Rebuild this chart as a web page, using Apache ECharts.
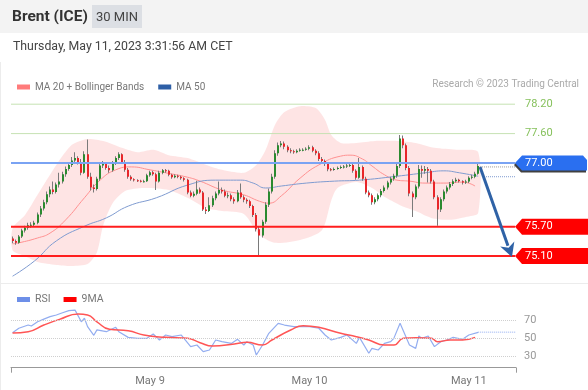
<!DOCTYPE html>
<html><head><meta charset="utf-8">
<script src="https://cdn.jsdelivr.net/npm/echarts@6/dist/echarts.min.js"></script>
<style>
html,body{margin:0;padding:0;background:#fff;width:588px;height:390px;overflow:hidden;font-family:Roboto,Arial,sans-serif;}
#chart{position:absolute;left:0;top:0;width:588px;height:390px;}
#hdr{position:absolute;left:0;top:0;width:588px;height:33px;background:#f3f3f3;}
#title{position:absolute;left:12px;top:7px;font-weight:bold;font-size:15.5px;color:#333;}
#badge{position:absolute;left:92px;top:5px;width:50px;height:23px;background:#dcdfe4;color:#444;font-size:13px;line-height:23px;text-align:center;}
#date{position:absolute;left:13px;top:38.5px;font-size:12.3px;color:#444;}
#sep{position:absolute;left:0;top:283px;width:588px;height:1px;background:#ececec;}
#lb{position:absolute;left:0;top:62px;width:1px;height:328px;background:#ececec;}
</style></head><body>
<div id="chart"></div>
<div id="hdr"><div id="title">Brent (ICE)</div><div id="badge">30 MIN</div></div>
<div id="date">Thursday, May 11, 2023 3:31:56 AM CET</div>
<div id="sep"></div><div id="lb"></div>
<script>
// ---- data (30-minute candles, index 0..149) ----
const opens = [
75.46,75.41,75.37,75.50,75.62,75.68,75.73,75.74,75.78,75.95,
76.07,76.20,76.36,76.46,76.41,76.56,76.62,76.77,76.88,76.96,
77.05,77.10,77.02,76.80,77.18,76.72,76.50,76.47,76.68,76.95,
76.98,76.90,76.85,77.00,77.10,77.18,77.02,76.86,76.72,76.67,
76.65,76.64,76.62,76.63,76.75,76.81,76.77,76.62,76.80,76.85,
76.84,76.76,76.71,76.74,76.72,76.69,76.66,76.40,76.33,76.37,
76.46,76.40,76.05,76.02,76.14,76.28,76.38,76.45,76.42,76.33,
76.34,76.26,76.22,76.40,76.30,76.25,76.22,76.12,75.94,75.65,
75.52,75.80,76.15,76.42,76.72,77.20,77.36,77.40,77.33,77.26,
77.24,77.22,77.25,77.27,77.27,77.29,77.32,77.25,77.20,77.08,
77.04,76.98,76.87,76.86,76.88,76.90,76.92,76.93,76.95,76.96,
76.84,76.70,76.92,76.68,76.40,76.34,76.20,76.26,76.34,76.43,
76.50,76.60,76.68,76.74,76.94,77.50,77.36,76.90,76.38,76.30,
76.52,76.88,76.84,76.88,76.84,76.62,76.30,76.05,76.26,76.42,
76.50,76.57,76.63,76.66,76.63,76.60,76.62,76.70,76.72,76.78];
const closes = [
75.41,75.37,75.50,75.62,75.68,75.73,75.74,75.78,75.95,76.07,
76.20,76.36,76.46,76.41,76.56,76.62,76.77,76.88,76.96,77.05,
77.10,77.02,76.80,77.18,76.72,76.50,76.47,76.68,76.95,76.98,
76.90,76.85,77.00,77.10,77.18,77.02,76.86,76.72,76.67,76.65,
76.64,76.62,76.63,76.75,76.81,76.77,76.62,76.80,76.85,76.84,
76.76,76.71,76.74,76.72,76.69,76.66,76.40,76.33,76.37,76.46,
76.40,76.05,76.02,76.14,76.28,76.38,76.45,76.42,76.33,76.34,
76.26,76.22,76.40,76.30,76.25,76.22,76.12,75.94,75.65,75.52,
75.80,76.15,76.42,76.72,77.20,77.36,77.40,77.33,77.26,77.24,
77.22,77.25,77.27,77.27,77.29,77.32,77.25,77.20,77.08,77.04,
76.98,76.87,76.86,76.88,76.90,76.92,76.93,76.95,76.96,76.84,
76.70,76.92,76.68,76.40,76.34,76.20,76.26,76.34,76.43,76.50,
76.60,76.68,76.74,76.94,77.50,77.36,76.90,76.38,76.30,76.52,
76.88,76.84,76.88,76.84,76.62,76.30,76.05,76.26,76.42,76.50,
76.57,76.63,76.66,76.63,76.60,76.62,76.70,76.72,76.78,76.94];
const lows = [
75.36,75.33,75.35,75.47,75.58,75.64,75.68,75.70,75.75,75.90,
76.03,76.16,76.30,76.36,76.38,76.50,76.58,76.72,76.84,76.92,
77.00,76.97,76.75,76.78,76.68,76.44,76.40,76.44,76.64,76.90,
76.86,76.80,76.82,76.96,77.06,76.98,76.82,76.68,76.64,76.62,
76.61,76.60,76.60,76.61,76.72,76.74,76.45,76.60,76.77,76.80,
76.73,76.68,76.69,76.69,76.66,76.62,76.36,76.30,76.30,76.34,
76.37,76.02,75.96,76.00,76.10,76.24,76.34,76.38,76.30,76.28,
76.22,76.17,76.20,76.27,76.20,76.17,76.08,75.90,75.60,75.10,
75.48,75.76,76.10,76.38,76.68,77.15,77.32,77.28,77.22,77.20,
77.19,77.20,77.23,77.24,77.25,77.26,77.22,77.16,77.04,77.00,
76.94,76.83,76.83,76.84,76.86,76.88,76.89,76.90,76.92,76.80,
76.66,76.68,76.64,76.36,76.30,76.15,76.16,76.22,76.30,76.40,
76.46,76.56,76.64,76.70,76.90,77.30,76.85,76.32,75.90,76.26,
76.48,76.70,76.78,76.60,76.58,76.26,75.72,76.00,76.22,76.38,
76.46,76.53,76.60,76.60,76.56,76.57,76.59,76.67,76.69,76.76];
const highs = [
75.50,75.44,75.53,75.66,75.72,75.78,75.79,75.82,75.99,76.12,
76.25,76.42,76.52,76.62,76.60,76.80,76.82,76.93,77.02,77.12,
77.22,77.14,77.08,77.24,77.48,76.80,76.56,76.72,77.00,77.04,
77.02,76.95,77.04,77.14,77.22,77.20,77.06,76.90,76.75,76.69,
76.67,76.66,76.66,76.78,76.84,76.84,76.80,76.84,76.88,76.88,
76.86,76.78,76.77,76.76,76.74,76.71,76.68,76.44,76.42,76.64,
76.50,76.43,76.10,76.30,76.33,76.42,76.62,76.50,76.46,76.40,
76.38,76.30,76.45,76.58,76.34,76.28,76.25,76.15,75.98,75.70,
75.84,76.20,76.48,76.78,77.26,77.42,77.45,77.44,77.36,77.30,
77.27,77.28,77.30,77.30,77.32,77.36,77.35,77.28,77.24,77.12,
77.07,77.00,76.90,76.91,76.93,76.95,76.96,76.98,77.00,76.99,
76.87,77.10,76.95,76.72,76.44,76.38,76.30,76.38,76.47,76.54,
76.64,76.72,76.78,76.98,77.57,77.56,77.40,76.94,76.42,76.56,
76.96,76.95,76.94,76.92,76.88,76.66,76.34,76.30,76.46,76.54,
76.61,76.67,76.70,76.68,76.65,76.66,76.73,76.76,76.82,76.98];

// indicator readings [candle index, value]
const ma20 = [[0,75.35],[2,75.37],[8,75.47],[12,75.57],[17,75.84],[23,76.29],[28,76.65],[33,76.86],[38,76.92],[44,76.86],[49,76.80],[56,76.71],[60,76.63],[67,76.45],[74,76.35],[79,76.22],[82,76.18],[86,76.33],[92,76.69],[98,76.96],[105,77.14],[108,77.16],[112,77.08],[115,76.94],[119,76.76],[123,76.65],[127,76.63],[132,76.59],[138,76.59],[144,76.61],[148,76.53]];
const ma50 = [[0,74.69],[7,75.00],[14,75.41],[23,75.71],[30,75.88],[37,76.12],[46,76.29],[56,76.55],[65,76.65],[73,76.65],[77,76.59],[81,76.49],[86,76.53],[94,76.59],[103,76.63],[111,76.65],[123,76.73],[132,76.80],[138,76.84],[143,76.80],[149,76.73]];
const bbUpper = [[0,75.67],[4,75.94],[8,76.35],[14,76.96],[19,77.37],[24,77.49],[29,77.45],[35,77.31],[40,77.22],[45,77.27],[50,77.16],[56,77.10],[62,76.96],[67,76.86],[74,76.80],[78,76.96],[81,77.27],[84,77.78],[87,78.04],[92,78.16],[97,78.12],[100,77.88],[102,77.57],[105,77.41],[110,77.41],[116,77.45],[123,77.45],[129,77.41],[135,77.31],[142,77.27],[149,77.22]];
const bbLower = [[0,75.22],[4,75.10],[8,74.98],[14,74.92],[19,74.90],[24,74.94],[27,75.18],[29,75.73],[32,76.18],[36,76.43],[42,76.49],[50,76.45],[56,76.29],[62,76.08],[67,76.02],[74,75.96],[79,75.53],[84,75.37],[92,75.43],[99,75.63],[102,76.24],[104,76.49],[110,76.61],[115,76.49],[119,76.31],[124,76.14],[129,76.02],[134,75.88],[140,75.84],[145,75.90],[149,75.98]];
const rsi = [[0,55.9],[2,60.8],[5,64.4],[6,63.3],[8,68],[10,71],[12,73.7],[14,75.6],[16,78],[18,80.4],[20,81],[22,68],[23,72],[24,62.6],[26,53],[27,59],[30,57],[33,61.9],[34,57],[37,50.7],[40,49.6],[43,49.6],[45,54.4],[47,47.8],[49,53.3],[51,51.5],[54,53.3],[57,40.4],[59,42.2],[61,34.8],[63,36.7],[65,47.8],[67,45.9],[70,44],[72,48.5],[74,42.2],[75,45.9],[77,42.2],[78,31.1],[80,42.2],[82,55.2],[85,66.3],[87,64.4],[90,62.6],[92,62.6],[95,62.6],[98,60.8],[100,53.3],[102,47.8],[105,50.7],[107,53.3],[110,44],[111,50.7],[114,33],[115,38.5],[117,36.7],[119,44],[121,45.9],[122,49.6],[124,66.3],[127,42.2],[129,38.5],[130,52.2],[131,49.6],[133,52.2],[135,40.4],[137,45.9],[139,47.8],[141,50.7],[144,48.5],[146,53.3],[149,56.3]];
const rsiMa9 = [[0,55.6],[5,57],[10,64.4],[15,70.7],[21,76.7],[24,75.6],[27,68],[31,59.6],[37,58.1],[42,53.3],[49,50.7],[56,49.6],[60,44.8],[64,41.1],[71,43.3],[75,45.2],[80,42.2],[83,47.8],[89,58.9],[93,63.7],[98,61.9],[105,55.2],[110,51.5],[114,47.8],[119,42.2],[122,42.2],[125,49.6],[129,50.4],[134,49.6],[136,45.9],[140,47.8],[144,47.8],[148,50.7]];

const levels = [78.20, 77.60, 77.00, 75.70, 75.10];
const levelLabels = ['78.20', '77.60', '77.00', '75.70', '75.10'];
const rsiLevels = [70, 50, 30];
const dateTicks = [44, 95, 146];
const dateLabels = ['May 9', 'May 10', 'May 11'];
const lastPrice = 76.92, lastMa50 = 76.72, lastRsi = 56.5;
const arrowFrom = [149.6, 76.92], arrowTo = [159.8, 75.08];
const xMin = -0.5, xMax = 161.1;

// ---- styles ----
const GREEN = '#2b8a30', RED = '#e8262a';
const levelStyle = [
  {line:'#c6e2b3', w:1, text:'#86c15c', tag:null},
  {line:'#c6e2b3', w:1, text:'#86c15c', tag:null},
  {line:'#7aa3f3', w:2, text:'#fff', tag:'#2a6ff0', shadow:true},
  {line:'#ff1e1e', w:2, text:'#fff', tag:'#ff0000'},
  {line:'#ff1e1e', w:2, text:'#fff', tag:'#ff0000'}
];

const candleData = opens.map((o, i) => [i, o, closes[i], lows[i], highs[i]]);
const chart = echarts.init(document.getElementById('chart'), null, {renderer:'canvas'});

const option = {
  animation: false,
  textStyle: {fontFamily: 'Roboto, Arial, sans-serif'},
  title: {text: 'Research \u00a9 2023 Trading Central', right: 9, top: 79, padding: 0,
          textStyle: {fontSize: 10, color: '#aaa', fontWeight: 'normal'}},
  legend: [
    {left: 12, top: 77, icon: 'rect', itemWidth: 13, itemHeight: 5, itemGap: 14, selectedMode: false,
     textStyle: {color: '#777', fontSize: 10},
     data: [{name: 'MA 20 + Bollinger Bands', itemStyle: {color: '#ff7b7b'}},
            {name: 'MA 50', itemStyle: {color: '#2e5fa6'}}]},
    {left: 12, top: 289, icon: 'rect', itemWidth: 13, itemHeight: 5, itemGap: 13, selectedMode: false,
     textStyle: {color: '#777', fontSize: 10.5},
     data: [{name: 'RSI', itemStyle: {color: '#6d8fe8'}},
            {name: '9MA', itemStyle: {color: '#ff0000'}}]}
  ],
  grid: [
    {left: 11, width: 505, top: 89.5, height: 191.1},
    {left: 11, width: 505, top: 302, height: 65.7}
  ],
  xAxis: [
    {gridIndex: 0, type: 'value', min: xMin, max: xMax, show: false},
    {gridIndex: 1, type: 'value', min: xMin, max: xMax, splitLine: {show: false},
     axisLine: {show: true, lineStyle: {color: '#999'}},
     axisTick: {show: true, customValues: [xMin, xMax], length: 5, lineStyle: {color: '#999'}},
     axisLabel: {customValues: dateTicks, color: '#777', fontSize: 11, margin: 8,
                 formatter: v => dateLabels[dateTicks.indexOf(v)] || ''}}
  ],
  yAxis: [
    {gridIndex: 0, type: 'value', min: 74.6, max: 78.5, show: false},
    {gridIndex: 1, type: 'value', min: 17, max: 90, show: false}
  ],
  series: [
    {type: 'custom', name: 'bands', xAxisIndex: 0, yAxisIndex: 0, z: 1, silent: true, clip: true,
     data: [[0, bbUpper[0][1]]],
     renderItem: (params, api) => {
       const pts = bbUpper.map(p => api.coord(p)).concat(bbLower.slice().reverse().map(p => api.coord(p)));
       return {type: 'polygon', shape: {points: pts, smooth: 0.25}, style: {fill: 'rgba(250,95,95,0.17)'}};
     }},
    {type: 'line', name: 'MA 20 + Bollinger Bands', xAxisIndex: 0, yAxisIndex: 0, z: 2, data: ma20,
     smooth: 0.5, showSymbol: false, lineStyle: {color: '#ff9090', width: 1}, itemStyle: {color: '#ff7b7b'}},
    {type: 'line', name: 'MA 50', xAxisIndex: 0, yAxisIndex: 0, z: 2, data: ma50,
     smooth: 0.5, showSymbol: false, lineStyle: {color: '#7f9bd0', width: 1}, itemStyle: {color: '#2e5fa6'}},
    {type: 'line', name: 'ma50ext', xAxisIndex: 0, yAxisIndex: 0, z: 2, data: [[151.5, lastMa50], [xMax, lastMa50]],
     showSymbol: false, lineStyle: {color: '#7f9bd0', width: 1, type: 'dotted'}},
    {type: 'line', name: 'lastext', xAxisIndex: 0, yAxisIndex: 0, z: 2, data: [[149.6, lastPrice], [xMax, lastPrice]],
     showSymbol: false, lineStyle: {color: '#999', width: 1, type: 'dotted'}},
    {type: 'custom', name: 'candles', xAxisIndex: 0, yAxisIndex: 0, z: 3, silent: true,
     encode: {x: 0, y: [1, 2, 3, 4]}, data: candleData,
     renderItem: (params, api) => {
       const i = api.value(0), o = api.value(1), c = api.value(2), l = api.value(3), h = api.value(4);
       const pO = api.coord([i, o]), pC = api.coord([i, c]), pL = api.coord([i, l]), pH = api.coord([i, h]);
       const bx = Math.round(pO[0] - 1);
       const top = Math.min(pO[1], pC[1]);
       const bh = Math.max(1, Math.abs(pO[1] - pC[1]));
       return {type: 'group', children: [
         {type: 'rect', shape: {x: bx, y: pH[1], width: 1, height: Math.max(1, pL[1] - pH[1])}, style: {fill: '#7a7a7a'}},
         {type: 'rect', shape: {x: bx, y: top, width: 2, height: bh}, style: {fill: c >= o ? GREEN : RED}}
       ]};
     }},
    {type: 'custom', name: 'levels', xAxisIndex: 0, yAxisIndex: 0, z: 4, silent: true,
     data: levels.map((v, k) => [k, v]),
     renderItem: (params, api) => {
       const k = api.value(0), v = api.value(1), st = levelStyle[k];
       const y = api.coord([0, v])[1];
       const x0 = params.coordSys.x, x1 = x0 + params.coordSys.width;
       const kids = [{type: 'line', shape: {x1: x0, y1: y, x2: x1 - 1, y2: y}, style: {stroke: st.line, lineWidth: st.w}}];
       if (st.tag) {
         const pts = st.shadow
           ? [[x1 - 1, y], [x1 + 6, y - 7.5], [x1 + 67, y - 7.5], [x1 + 71, y - 3], [x1 + 71, y + 7.5], [x1 + 6, y + 7.5]]
           : [[x1 - 1, y], [x1 + 6, y - 8], [x1 + 80, y - 8], [x1 + 80, y + 8], [x1 + 6, y + 8]];
         kids.push({type: 'polygon', shape: {points: pts},
           style: {fill: st.tag, shadowColor: st.shadow ? 'rgba(0,0,0,0.75)' : 'transparent', shadowOffsetY: st.shadow ? 2 : 0, shadowOffsetX: st.shadow ? -1 : 0}});
       }
       kids.push({type: 'text', x: x1 + 9, y: y, style: {text: levelLabels[k], fill: st.text, fontSize: 11,
         fontFamily: 'Roboto, Arial, sans-serif', verticalAlign: 'middle', align: 'left'}});
       return {type: 'group', children: kids};
     }},
    {type: 'custom', name: 'arrow', xAxisIndex: 0, yAxisIndex: 0, z: 5, silent: true,
     data: [[arrowFrom[0], arrowFrom[1], arrowTo[0], arrowTo[1]]],
     renderItem: (params, api) => {
       const a = api.coord([api.value(0), api.value(1)]), b = api.coord([api.value(2), api.value(3)]);
       const dx = b[0] - a[0], dy = b[1] - a[1], len = Math.sqrt(dx * dx + dy * dy);
       const ux = dx / len, uy = dy / len, hl = 14, hw = 7.5;
       const base = [b[0] - ux * hl, b[1] - uy * hl];
       return {type: 'group', children: [
         {type: 'line', shape: {x1: a[0], y1: a[1], x2: base[0] + ux * 2, y2: base[1] + uy * 2}, style: {stroke: '#2f62a6', lineWidth: 3}},
         {type: 'polygon', shape: {points: [b, [base[0] - uy * hw, base[1] + ux * hw], [base[0] + ux * 4, base[1] + uy * 4], [base[0] + uy * hw, base[1] - ux * hw]]},
          style: {fill: '#2f62a6'}}
       ]};
     }},
    {type: 'line', name: 'RSI', xAxisIndex: 1, yAxisIndex: 1, z: 2, data: rsi, showSymbol: false,
     lineStyle: {color: '#93adf0', width: 1.2}, itemStyle: {color: '#6d8fe8'},
     markLine: {silent: true, symbol: 'none', animation: false,
       lineStyle: {color: '#cfcfcf', type: 'dotted', width: 1},
       label: {position: 'end', distance: 8, color: '#999', fontSize: 11, formatter: '{c}'},
       data: rsiLevels.map(v => ({yAxis: v}))}},
    {type: 'line', name: 'rsiext', xAxisIndex: 1, yAxisIndex: 1, z: 2, data: [[149, lastRsi], [xMax, lastRsi]],
     showSymbol: false, lineStyle: {color: '#93adf0', width: 1, type: 'dotted'}},
    {type: 'line', name: '9MA', xAxisIndex: 1, yAxisIndex: 1, z: 3, data: rsiMa9, smooth: 0.5, showSymbol: false,
     lineStyle: {color: '#ff5555', width: 1.5}, itemStyle: {color: '#ff0000'}}
  ]
};
chart.setOption(option);
</script>
</body></html>
